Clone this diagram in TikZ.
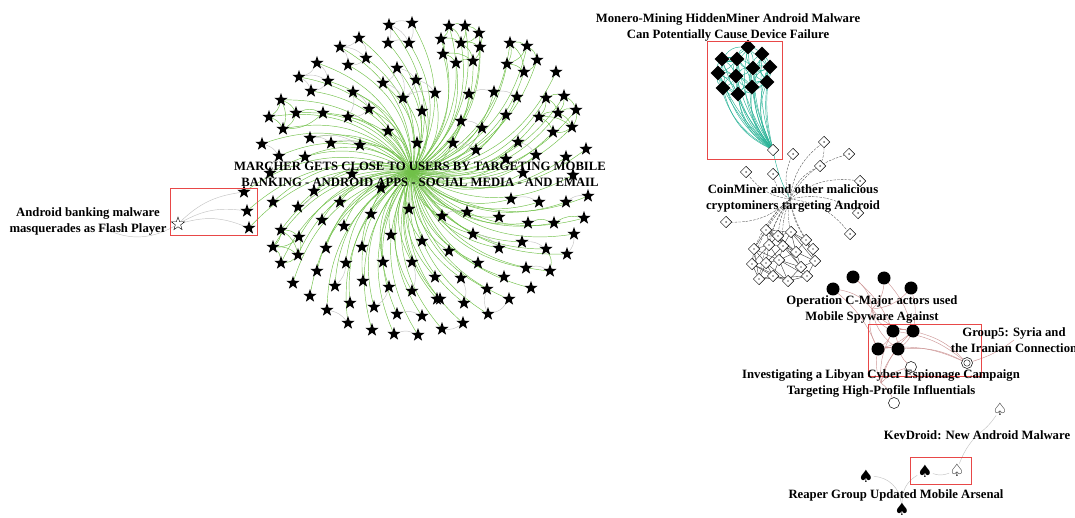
\documentclass[tikz,border=0pt]{standalone}
\usepackage{fontspec}
\setmainfont{Liberation Serif}
\newfontfamily\symfont{DejaVu Sans}
\usetikzlibrary{shapes.geometric}
\definecolor{edgegreen}{RGB}{112,192,72}
\definecolor{edgegray}{RGB}{195,195,195}
\definecolor{tealedge}{RGB}{40,178,150}
\definecolor{rosy}{RGB}{205,150,150}
\definecolor{boxred}{RGB}{232,72,72}
\pgfdeclarelayer{edges}
\pgfsetlayers{edges,main}
\begin{document}
\begin{tikzpicture}[x=1pt,y=-1pt,
  lbl/.style={font=\bfseries\fontsize{12.7}{16}\selectfont, align=center, inner sep=0pt},
  bstar/.style={star, star points=5, star point ratio=2.5, fill=black, inner sep=0pt, minimum size=14pt},
  wstar/.style={bstar, fill=white, draw=black, line width=0.4pt},
  bdia/.style={diamond, fill=black, inner sep=0pt, minimum size=15pt},
  wdia/.style={diamond, draw=black, fill=white, line width=0.5pt, inner sep=0pt, minimum size=11.5pt},
  bcirc/.style={circle, fill=black, inner sep=0pt, minimum size=13pt},
  wcirc/.style={circle, draw=black, fill=white, line width=0.5pt, inner sep=0pt, minimum size=11pt},
  spade/.style={font=\symfont\fontsize{17}{17}\selectfont, inner sep=0pt},
  gedge/.style={draw=edgegreen, line width=0.45pt},
  gredge/.style={draw=edgegray, line width=0.45pt},
  tedge/.style={draw=tealedge, line width=0.45pt},
  dedge/.style={draw=black!70, line width=0.35pt, dash pattern=on 2.5pt off 1.2pt},
  kedge/.style={draw=black!75, line width=0.4pt},
  pedge/.style={draw=rosy, line width=0.45pt},
  hl/.style={draw=boxred, line width=0.8pt},
]
\useasboundingbox (0,0) rectangle (1075,518);

% ---------- MARCHER cluster ----------
\coordinate (hub) at (412,172);
\foreach \x/\y [count=\i] in {389/25,412/23,388/43,409/43,359/38,340/47,366/58,348/65,317/63,299/77,328/81,311/91,397/68,383/83,416/80,403/98,435/93,353/92,369/109,348/117,422/111,281/100,296/113,323/113,269/117,283/129,388/131,310/138,331/143,360/145,417/143,262/144,279/156,305/157,270/173,352/174,449/26,465/26,479/33,441/39,461/43,480/47,443/54,456/63,473/61,510/43,527/46,537/60,507/64,524/72,556/72,469/94,494/92,517/97,546/98,564/96,576/110,539/117,558/113,572/127,553/132,461/121,482/128,506/115,453/143,476/150,518/142,536/155,506/159,566/157,586/149,523/173,573/175,314/191,381/188,273/202,298/207,340/202,322/220,344/226,371/214,409/209,281/230,299/237,273/247,298/255,281/263,326/248,362/247,391/235,422/241,346/263,383/262,412/262,317/271,293/283,335/286,363/281,389/287,412/291,435/277,310/296,350/303,374/307,397/314,422/316,437/299,327/310,348/323,372/330,394/334,418/335,511/199,539/202,566/202,588/196,442/216,467/212,499/217,528/223,554/223,584/218,473/234,522/242,499/248,546/249,574/234,567/254,449/251,478/263,526/268,550/271,461/278,504/277,531/288,487/289,509/299,440/299,464/303,488/314,463/323,442/329}
  \node[bstar] (s\i) at (\x,\y) {};

% ---------- Flash Player group ----------
\coordinate (abm) at (100,226);
\node[wstar] (os) at (178,224) {};
\node[bstar] (l1) at (244,192) {};
\node[bstar] (l2) at (247,211) {};
\node[bstar] (l3) at (249,228) {};

% ---------- Monero / CoinMiner ----------
\foreach \x/\y [count=\i] in {748/47,762/54,722/59,737/59,753/68,770/67,718/73,736/76,767/82,723/88,752/87,738/94}
  \node[bdia] (md\i) at (\x,\y) {};
\node[wdia] (mh) at (773,150) {};
\coordinate (cm) at (790,199);
\foreach \x/\y [count=\i] in {793/154,824/142,820/166,849/154,860/181,746/172,773/174,858/213,850/234,726/222}
  {\node[wdia] (cd\i) at (\x,\y) {}; \fill[black!60] (cd\i.center) circle (1pt);}
\foreach \x/\y [count=\i] in {766/230,778/236,791/232,754/249,806/240,769/245,783/246,796/252,815/261,752/264,766/263,779/260,801/267,759/279,773/276,788/281,807/276,813/249}
  {\node[wdia] (cc\i) at (\x,\y) {}; \fill[black!60] (cc\i.center) circle (0.9pt);}

% ---------- circles ----------
\foreach \x/\y [count=\i] in {853/277,884/278,833/289,911/288,893/331,913/331,878/349,898/349}
  \node[bcirc] (c\i) at (\x,\y) {};
\node[wcirc] (o1) at (911,367) {};
\node[wcirc] (o2) at (894,403) {};
\node[wcirc] (dc) at (967,363) {};
\draw[line width=0.4pt] (dc.center) circle (3.2pt);
\coordinate (cmaj) at (872,309);
\coordinate (lib) at (881,383);
\coordinate (gfive) at (1014,340);

% ---------- spades ----------
\node[spade] (sp1) at (1000,409) {\symbol{"2664}};
\node[spade] (sp2) at (957,470) {\symbol{"2664}};
\node[spade] (sp3) at (925,471) {\symbol{"2660}};
\node[spade] (sp4) at (866,476) {\symbol{"2660}};
\node[spade] (sp5) at (902,509) {\symbol{"2660}};
\coordinate (kev) at (977,435);

% ---------- edges ----------
\begin{pgfonlayer}{edges}
  \foreach \i in {1,...,142} \draw[gedge] (hub) to[bend right=30] (s\i);
  \foreach \n in {l1,l2,l3} \draw[gedge] (hub) to[bend right=28] (\n);
  \foreach \a/\b in {1/2,1/3,2/4,3/4,1/4,5/6,5/7,6/8,7/8,6/7,9/10,9/11,10/12,11/12,10/11,13/14,13/15,14/16,15/16,16/17,15/17,13/16,28/29,29/30,28/30,52/53,53/54,18/19,19/20,18/20,62/63,65/66,67/68,74/77,92/97,94/100,99/104,105/106,108/109,111/112,113/114,115/116,117/118,123/125,124/126,127/128,131/132,133/139,137/140,141/142,140/136,35/33,32/33}
    \draw[gredge] (s\a) to[bend left=20] (s\b);
  \foreach \a/\b in {37/38,38/39,37/40,40/41,41/42,39/42,40/43,43/44,44/45,41/45,42/45,37/41,38/41,39/41,43/45,46/47,47/48,46/49,49/50,48/50,47/49,46/50,55/56,56/57,55/58,58/59,59/57,57/60,60/61,58/61,55/59,56/59,59/60,58/60,22/23,23/24,22/25,25/26,23/26,24/26,22/26,83/84,83/85,85/86,86/87,84/86,85/87,83/86,84/85,120/121,121/122,126/132}
    \draw[gedge] (s\a) to[bend left=20] (s\b);
  % flash player
  \foreach \n in {l1,l2,l3} \draw[gredge] (os) to[bend left=18] (\n);
  \draw[gredge] (abm) to[bend right=30] (os);
  % monero
  \foreach \i in {1,...,12} {\draw[tedge] (mh) to[bend left=10] (md\i); \draw[tedge] (mh) to[bend left=24] (md\i);}
  \foreach \a/\b in {1/2,1/4,1/5,2/5,2/6,3/4,3/7,4/5,4/7,4/8,5/6,5/8,5/9,6/9,7/8,7/10,8/10,8/11,8/12,9/11,10/12,11/12,3/8,4/11,2/9,1/3,6/11,5/11,9/12,7/12}
    {\draw[tedge] (md\a) to[bend left=15] (md\b); \draw[tedge] (md\a) to[bend right=25] (md\b);}
  \draw[tedge] (mh) to[bend right=8] (cm);
  % coinminer
  \foreach \i in {1,...,10} \draw[dedge] (cm) to[bend left=22] (cd\i);
  \draw[dedge] (cd2) to[bend left=10] (cd3);
  \foreach \i in {1,2,3,4,5,6,7,10,14,18} \draw[dedge] (cm) to[bend right=12] (cc\i);
  \foreach \a/\b in {1/2,2/3,1/4,3/5,1/6,2/7,3/8,5/9,4/10,6/11,7/12,8/13,10/14,11/15,12/16,13/17,9/17,4/6,6/7,7/8,8/5,10/11,11/12,12/13,13/9,14/15,15/16,16/17,1/7,2/8,4/11,6/12,7/13,10/15,11/16,12/17,3/18,18/9,5/18,1/3,4/14,2/6,3/7,8/9,11/14,13/16,12/15,6/10,7/11,8/12,1/8,4/12,10/16,14/17,2/13,3/9}
    \draw[kedge] (cc\a) -- (cc\b);
  % circles
  \foreach \i in {1,...,8} \draw[pedge] (cmaj) to[bend right=20] (c\i);
  \foreach \n in {o1,o2,c5,c6,c7,c8} \draw[pedge] (lib) to[bend left=15] (\n);
  \draw[pedge] (gfive) to[bend left=10] (dc);
  \foreach \i in {5,6,7,8} \draw[pedge] (dc) to[bend right=15] (c\i);
  \foreach \a/\b in {5/6,5/7,6/8,7/8,5/8,6/7,1/5,3/7,2/6,4/6} \draw[pedge] (c\a) to[bend left=12] (c\b);
  \draw[pedge] (o1) to[bend left=10] (c8);
  % spades
  \draw[gredge] (sp1) to[bend left=10] (kev);
  \draw[gredge] (kev) to[bend right=10] (sp2);
  \draw[gredge] (sp3) to[bend right=20] (sp2);
  \draw[gredge] (sp4) to[bend left=40] (sp5);
  \draw[gredge] (sp3) to[bend right=30] (sp5);
\end{pgfonlayer}

% ---------- highlight boxes ----------
\draw[hl] (170,188) rectangle (257,235);
\draw[hl] (707,41) rectangle (782,159);
\draw[hl] (868,324) rectangle (981,376);
\draw[hl] (910,457) rectangle (971,484);

% ---------- labels ----------
\node[lbl] (tflash) at (88,221) {Android banking malware\\masquerades as Flash Player};
\node[lbl] (tmarcher) at (420,174) {MARCHER GETS CLOSE TO USERS BY TARGETING MOBILE\\BANKING - ANDROID APPS - SOCIAL MEDIA - AND EMAIL};
\node[lbl] (tmonero) at (728,27) {Monero-Mining HiddenMiner Android Malware\\Can Potentially Cause Device Failure};
\node[lbl] (tcoin) at (793,198) {CoinMiner and other malicious\\cryptominers targeting Android};
\node[lbl] (tcmaj) at (872,309) {Operation C-Major actors used\\Mobile Spyware Against};
\node[lbl] (tgfive) at (1014,340) {Group5: Syria and\\the Iranian Connection};
\node[lbl] (tlib) at (881,383) {Investigating a Libyan Cyber Espionage Campaign\\Targeting High-Profile Influentials};
\node[lbl] (tkev) at (977,435) {KevDroid: New Android Malware};
\node[lbl] (treaper) at (896,495) {Reaper Group Updated Mobile Arsenal};
\end{tikzpicture}
\end{document}
